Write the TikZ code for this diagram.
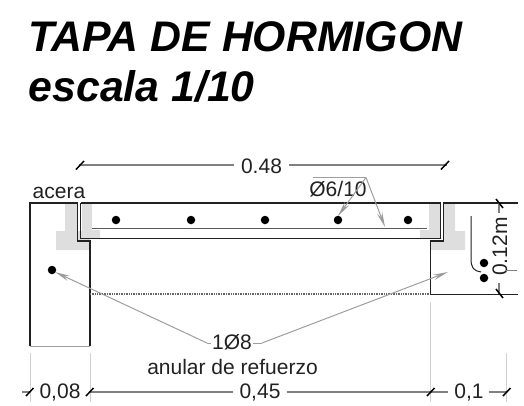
\documentclass[tikz,border=0pt]{standalone}
\usepackage{fontspec}
\setmainfont{Liberation Sans}
\usetikzlibrary{arrows.meta}
\definecolor{fillg}{gray}{0.87}
\definecolor{lead}{gray}{0.62}
\definecolor{dimg}{gray}{0.5}
\definecolor{ink}{gray}{0.13}
\tikzset{
  x=1pt,y=-1pt,
  title/.style={font=\fontsize{42.8}{48}\selectfont\bfseries\itshape,text=black,inner sep=0,anchor=base west},
  lab/.style={font=\fontsize{21}{24}\selectfont,text=ink,inner sep=0},
  blab/.style={lab,anchor=base},
  wall/.style={draw=ink,line width=1.4pt},
  bar/.style={fill=black,draw=none,circle,minimum size=8.5pt,inner sep=0},
  dimline/.style={draw=dimg,line width=1.1pt},
  ext/.style={draw=black!18,line width=.9pt},
  tick/.style={draw=black,line width=1.5pt},
  leader/.style={draw=lead,line width=1pt},
  leadarrow/.style={leader,-{Stealth[length=15pt,width=5.5pt,fill=lead!85!black]}},
}
\begin{document}
\begin{tikzpicture}
\useasboundingbox (0,0) rectangle (524,405);
% title
\node[title] (t1) at (28.5,51.5) {TAPA DE HORMIGON};
\node[title] (t2) at (28.5,101.5) {escala 1/10};
% grey fill
\fill[fillg] (65,203) -- (78,203) -- (78,231) -- (90,231) -- (90,250) -- (56,250) -- (56,231) -- (65,231) -- cycle;
\fill[fillg] (82,203) -- (92,203) -- (92,230) -- (100,230) -- (100,238) -- (82,238) -- cycle;
\fill[fillg] (429,203) -- (440,203) -- (440,238) -- (420,238) -- (420,230) -- (429,230) -- cycle;
\fill[fillg] (444,203) -- (455,203) -- (455,231) -- (465,231) -- (465,250) -- (431,250) -- (431,241) -- (444,241) -- cycle;
% wall
\coordinate (wA) at (30,346);
\coordinate (wB) at (90,346);
\draw[wall] (wA) -- (30,203) -- (77.5,203) -- (77.5,241) -- (90,241) -- (wB);
\draw[leader] (wA) -- (wB);
% lid
\draw[wall] (80.5,203) -- (80.5,238.5) -- (440.5,238.5) -- (440.5,203);
\draw[wall] (80.5,203) -- (440.5,203);
% right seat
\draw[wall] (518,203) -- (443.5,203) -- (443.5,241) -- (430.5,241) -- (430.5,294.5) -- (518,294.5);
% dotted level line
\draw[draw=black!60,line width=1.2pt,dash pattern=on 1pt off .7pt] (90,294) -- (430,294);
% top rebar
\draw[draw=black!65,line width=1pt] (92,228) -- (427,228);
\node[bar] (b1) at (116,220) {};
\node[bar] (b2) at (191,220) {};
\node[bar] (b3) at (265,220) {};
\node[bar] (b4) at (338,220) {};
\node[bar] (b5) at (408,220) {};
% ring bars
\node[bar] (b6) at (52,270) {};
\node[bar] (b7) at (484,263) {};
\node[bar] (b8) at (484,278) {};
\draw[draw=ink,line width=1pt] (471,216) -- (471,259) .. controls (471,268) and (474,271) .. (481,272);
% labels
\node[blab] (acera) at (59,198) {acera};
\node[blab] (d48) at (261.5,173) {0.48};
\node[blab] (phi6) at (338,196.5) {Ø6/10};
\node[lab,rotate=90,anchor=base] (d12) at (507,246.5) {0.12m};
\node[blab] (phi8) at (232,349.5) {1Ø8};
\node[blab] (anular) at (232.5,374) {anular de refuerzo};
\node[blab] (d08) at (60,398) {0,08};
\node[blab] (d45) at (260,398) {0,45};
\node[blab] (d01) at (469,398) {0,1};
% Ø6/10 leaders
\coordinate (p1) at (313,177.5);
\coordinate (p2) at (366,177.5);
\coordinate (p3) at (338,216);
\coordinate (p4) at (385,227);
\draw[leader] (p1) -- (p2);
\draw[leadarrow] (p2) -- (p3);
\draw[leadarrow] (p2) -- (p4);
% 1Ø8 leaders
\coordinate (q1) at (55,272);
\coordinate (q2) at (448,272);
\coordinate (q3) at (207,343);
\coordinate (q4) at (262,343);
\coordinate (q5) at ([xshift=-1pt]phi8.west |- q3);
\coordinate (q6) at ([xshift=1pt]phi8.east |- q4);
\draw[leadarrow] (q3) -- (q1);
\draw[leader] (q5) -- (q3);
\draw[leader] (q6) -- (q4);
\draw[leadarrow] (q4) -- (q2);
% extension lines
\draw[ext] (30,353) -- (30,402);
\draw[ext] (90,353) -- (90,402);
\draw[ext] (430,302) -- (430,402);
\draw[ext] (506,353) -- (506,402);
% top dimension
\coordinate (a1) at (79,165);
\coordinate (a2) at (447,165);
\coordinate (a1e) at ([xshift=-7pt]d48.west);
\coordinate (a2e) at ([xshift=7pt]d48.east);
\draw[dimline] (a1) -- (a1e |- a1);
\draw[dimline] (a2) -- (a2e |- a2);
\draw[tick] (76,169.5) -- (84,161);
\draw[tick] (441,169.5) -- (449,161);
% bottom dimension
\coordinate (c0) at (30,392);
\coordinate (c00) at (22,392);
\coordinate (c1) at (90,392);
\coordinate (c3) at (448,392);
\coordinate (c4) at (506,392);
\coordinate (c5) at ([xshift=-6pt]d45.west |- c1);
\coordinate (c6) at ([xshift=6pt]d45.east |- c1);
\coordinate (c7) at ([xshift=5pt]d01.east |- c1);
\draw[dimline] (c00) -- (c0);
\draw[dimline] (c1) -- (c5);
\draw[dimline] (c6) -- (c3);
\draw[dimline] (c7) -- (c4);
\draw[tick] (26,396) -- (33.5,388);
\draw[tick] (86,396) -- (93.5,388);
\draw[tick] (427,396) -- (434.5,388);
\draw[tick] (503,396) -- (510.5,388);
% right dimension
\coordinate (e1) at (499,203);
\coordinate (e2) at (499,294);
\coordinate (e3) at (505,270);
\coordinate (e4) at (517,270);
\draw[dimline] (e1) -- (499,213);
\draw[dimline] (e2) -- (499,283);
\draw[draw=dimg,line width=1pt] (e3) -- (e4);
\draw[tick] (496,199) -- (503,208);
\draw[tick] (496,289) -- (503,298);
\end{tikzpicture}
\end{document}
